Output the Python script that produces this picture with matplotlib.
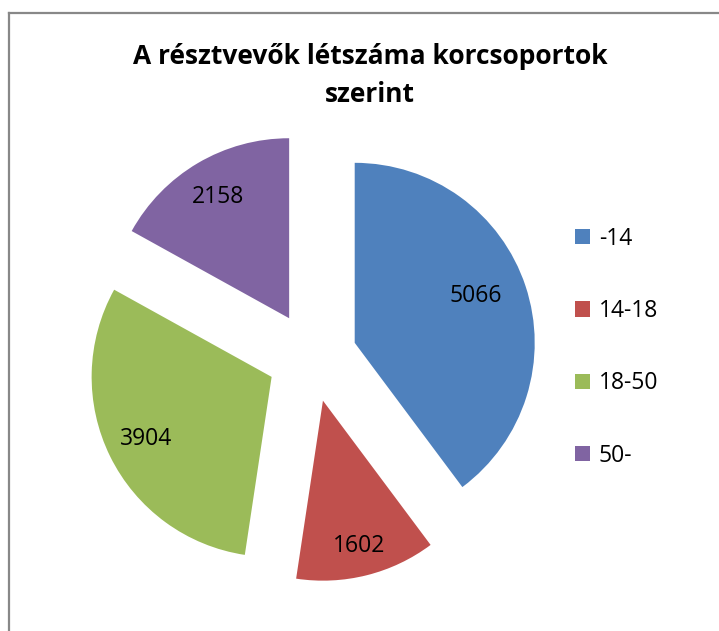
import matplotlib
matplotlib.use("Agg")
import numpy as np
import matplotlib.pyplot as plt
from matplotlib.lines import Line2D

# data
categories = ['-14', '14-18', '18-50', '50-']
values = [5066, 1602, 3904, 2158]
colors = ['#4f81bd', '#c0504d', '#9bbb59', '#8064a2']
title = 'A résztvevők létszáma korcsoportok\nszerint'

plt.rcParams['font.family'] = ['Open Sans', 'DejaVu Sans']

W, H = 719, 631
fig = plt.figure(figsize=(W / 100, H / 100), dpi=100)
fig.patch.set_facecolor('white')

ax = fig.add_axes([0, 0, 1, 1])
total = sum(values)
wedges, texts, autotexts = ax.pie(
    values, colors=colors, startangle=90, counterclock=False,
    explode=[0.25] * len(values), radius=1.0,
    autopct=lambda p: '%d' % round(p * total / 100.0), pctdistance=0.78,
    textprops=dict(fontsize=16.5, color='black'))

# label distance from each wedge tip, tweaked per slice like the original
label_r = [0.72, 0.83, 0.78, 0.78]
label_rot = [3.0, 0.0, 0.0, 0.0]
for w, t, r, dr in zip(wedges, autotexts, label_r, label_rot):
    th = np.deg2rad(0.5 * (w.theta1 + w.theta2) + dr)
    t.set_position((w.center[0] + r * np.cos(th), w.center[1] + r * np.sin(th)))

# px scale: radius 1 -> 180 px, center at (312, 357)
s = 180.0
cx, cy = 312.0, 357.0
ax.set_xlim(-cx / s, (W - cx) / s)
ax.set_ylim(-(H - cy) / s, cy / s)
ax.set_aspect('auto')
ax.axis('off')

# outer chart frame (clipped on the right and bottom like the original)
top = 1 - 13 / H
left = 9 / W
fig.add_artist(Line2D([left, left], [0, top], transform=fig.transFigure,
                      color='#888888', lw=1.6, zorder=10))
fig.add_artist(Line2D([left, 1], [top, top], transform=fig.transFigure,
                      color='#888888', lw=1.6, zorder=10))

fig.text(370 / W, 1 - 102 / H, title, ha='center', va='baseline',
         fontsize=19, fontweight='bold', linespacing=1.5)

leg = fig.legend(wedges, categories, loc='upper left',
                 bbox_to_anchor=(554 / W, 1 - 206 / H), frameon=False,
                 fontsize=16.5, handlelength=0.65, handleheight=0.65,
                 handletextpad=0.4, labelspacing=2.11)

fig.savefig('out.png', dpi=100)
